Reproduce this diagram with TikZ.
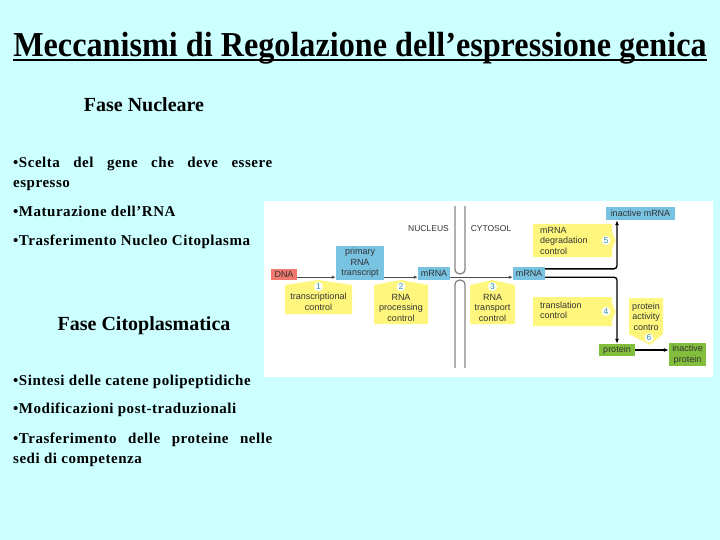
\documentclass[tikz,border=0pt]{standalone}
\usepackage{fontspec}
\setmainfont{Liberation Serif}
\setsansfont{Liberation Sans}
\newfontfamily\spacedserif[LetterSpace=3.5]{Liberation Serif}
\usetikzlibrary{arrows.meta}

\definecolor{slidebg}{RGB}{204,255,255}
\definecolor{dnared}{RGB}{240,120,110}
\definecolor{rnablue}{RGB}{120,195,225}
\definecolor{ctrlyel}{RGB}{255,247,125}
\definecolor{protgreen}{RGB}{130,190,60}
\definecolor{numteal}{RGB}{40,150,160}
\definecolor{membgray}{RGB}{135,135,135}

\begin{document}
\begin{tikzpicture}[x=1pt, y=-1pt,
  every node/.style={inner sep=0pt},
  txt/.style={font=\spacedserif\fontsize{15}{20}\selectfont\bfseries, anchor=base west},
  head/.style={font=\fontsize{20}{22}\selectfont\bfseries, anchor=base},
  lbl/.style={font=\sffamily\fontsize{9}{10.5}\selectfont, text=black!80, align=center},
  box/.style={lbl, minimum height=13pt},
  num/.style={circle, fill=white, minimum size=9pt, font=\sffamily\fontsize{8.5}{8.5}\selectfont, text=numteal},
  ctrl/.style={fill=ctrlyel},
  memb/.style={draw=membgray, line width=1.3pt},
  narr/.style={-{Latex[length=4pt,width=3.5pt]}, draw=black!70, line width=0.8pt},
  carr/.style={-{Latex[length=5pt,width=4pt]}, line width=1.4pt, rounded corners=3pt}
]

% Slide background
\fill[slidebg] (0,0) rectangle (720,540);
\useasboundingbox (0,0) rectangle (720,540);

% Title
\node[anchor=base, font=\fontsize{35}{40}\selectfont\bfseries] (title) at (360,57) {\scalebox{0.92}[1]{Meccanismi di Regolazione dell’espressione genica}};
\draw[line width=2pt] ([yshift=-3pt]title.base west) -- ([yshift=-3pt]title.base east);

% Fase nucleare
\node[head] (fasenuc) at (144,112) {Fase Nucleare};
\node[txt, text width=259pt, align=justify] (scelta) at (13,168) {\textbullet Scelta del gene che deve essere\linebreak espresso};
\node[txt] (matur) at (13,216) {\textbullet Maturazione dell’RNA};
\node[txt] (trasnuc) at (13,245) {\textbullet Trasferimento Nucleo Citoplasma};

% Fase citoplasmatica
\node[head] (fasecit) at (144,330) {Fase Citoplasmatica};
\node[txt] (sintesi) at (13,385) {\textbullet Sintesi delle catene polipeptidiche};
\node[txt] (modif) at (13,413) {\textbullet Modificazioni post-traduzionali};
\node[txt, text width=259pt, align=justify] (trasprot) at (13,443) {\textbullet Trasferimento delle proteine nelle\linebreak sedi di competenza};

% Figure panel
\fill[white] (264,201) rectangle (713,377);

% Control callouts
\fill[ctrl] (285,285) -- (318.5,280) -- (352,285) -- (352,314) -- (285,314) -- cycle;
\fill[ctrl] (374,285) -- (401,280) -- (428,285) -- (428,324) -- (374,324) -- cycle;
\fill[ctrl] (470,285) -- (492.5,280) -- (515,285) -- (515,324) -- (470,324) -- cycle;
\fill[ctrl] (533,224) -- (612,224) -- (612,232) -- (615.5,240.5) -- (612,249) -- (612,257) -- (533,257) -- cycle;
\fill[ctrl] (533,297) -- (612,297) -- (612,303) -- (615.5,311.5) -- (612,320) -- (612,326) -- (533,326) -- cycle;
\fill[ctrl] (629,298) -- (663,298) -- (663,334) -- (650,345) -- (629,334) -- cycle;

\node[num] (n1) at (318.5,286.5) {1};
\node[lbl] (c1) at (318.5,302) {transcriptional\\control};
\node[num] (n2) at (401,286.5) {2};
\node[lbl] (c2) at (401,307.5) {RNA\\processing\\control};
\node[num] (n3) at (492.5,286.5) {3};
\node[lbl] (c3) at (492.5,307.5) {RNA\\transport\\control};
\node[num] (n5) at (606,240.5) {5};
\node[lbl, align=left, anchor=west] (c5) at (540,240.5) {mRNA\\degradation\\control};
\node[num] (n4) at (606,311.5) {4};
\node[lbl, align=left, anchor=west] (c4) at (540,310.5) {translation\\control};
\node[num] (n6) at (649,338) {6};
\node[lbl] (c6) at (646,316.5) {protein\\activity\\contro};

% Nuclear envelope
\draw[memb] (455,206) -- (455,269) .. controls (455,275.7) and (465,275.7) .. (465,269) -- (465,206);
\draw[memb] (455,368) -- (455,285) .. controls (455,278.3) and (465,278.3) .. (465,285) -- (465,368);
\node[lbl, font=\sffamily\fontsize{8.5}{10}\selectfont] (nucleus) at (428.5,228.5) {NUCLEUS};
\node[lbl, font=\sffamily\fontsize{8.5}{10}\selectfont] (cytosol) at (491,228.5) {CYTOSOL};

% Molecules
\node[box, fill=dnared, minimum width=26pt, minimum height=11pt] (dna) at (284,274.5) {DNA};
\node[box, fill=rnablue, minimum width=48pt, minimum height=34pt] (primary) at (360,263) {primary\\RNA\\transcript};
\node[box, fill=rnablue, minimum width=32pt] (mrnanuc) at (434,273.5) {mRNA};
\node[box, fill=rnablue, minimum width=32pt] (mrnacyt) at (529,273.5) {mRNA};
\node[box, fill=rnablue, minimum width=69pt] (inactmrna) at (640.5,213.5) {inactive mRNA};
\node[box, fill=protgreen, minimum width=36pt, minimum height=12pt] (protein) at (617,350) {protein};
\node[box, fill=protgreen, minimum width=37pt, minimum height=23pt] (inactprot) at (687.5,354.5) {inactive\\protein};

% Pathway
\draw[narr] ([yshift=3pt]dna.south east) -- ([yshift=3pt]primary.south west);
\draw[narr] ([yshift=3pt]primary.south east) -- ([yshift=3pt]mrnanuc.south west);
\draw[narr] ([yshift=3pt]mrnanuc.south east) -- ([yshift=3pt]mrnacyt.south west);
\draw[carr] ([yshift=-2pt]mrnacyt.north east) -| (inactmrna.south -| protein.north);
\draw[carr] ([yshift=3pt]mrnacyt.south east) -| (protein.north);
\draw[carr] (protein.east) -- (protein.east -| inactprot.west);

\end{tikzpicture}
\end{document}
